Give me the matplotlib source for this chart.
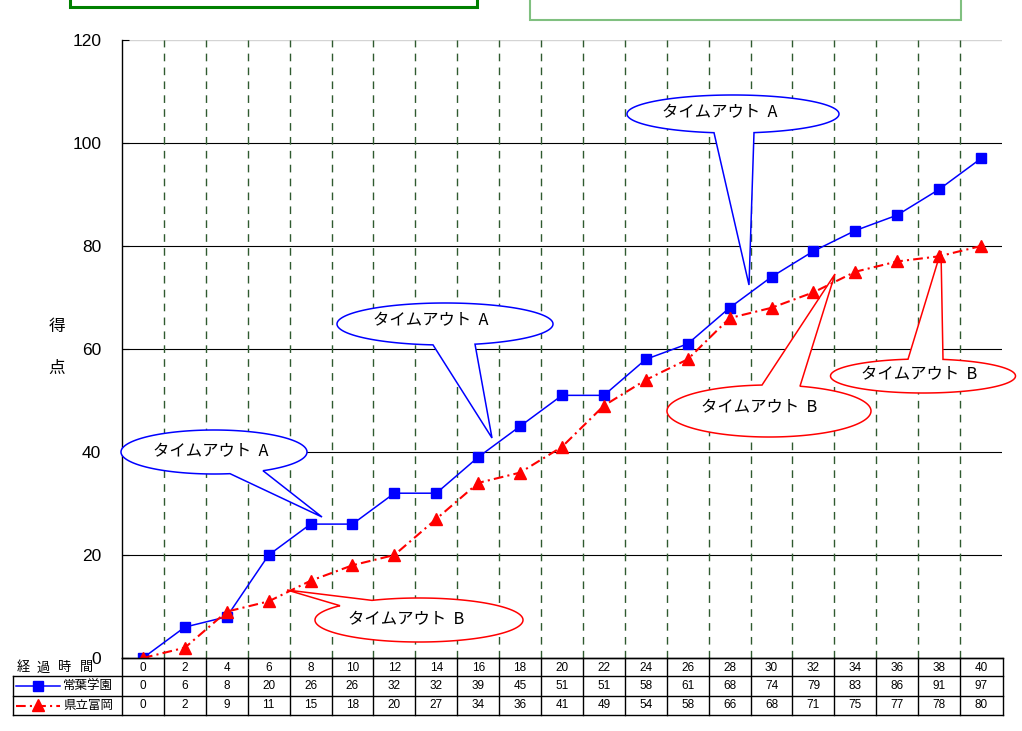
import numpy as np
import matplotlib
matplotlib.use("Agg")
import matplotlib.pyplot as plt
from matplotlib.patches import Polygon, Rectangle
from matplotlib.lines import Line2D
from matplotlib.transforms import Affine2D, blended_transform_factory

plt.rcParams['font.family'] = ['Liberation Sans', 'Noto Sans CJK JP']
plt.rcParams['lines.scale_dashes'] = False

# ---------------- data ----------------
minutes = [0, 2, 4, 6, 8, 10, 12, 14, 16, 18, 20, 22, 24, 26, 28, 30, 32, 34, 36, 38, 40]
tokiwa = [0, 6, 8, 20, 26, 26, 32, 32, 39, 45, 51, 51, 58, 61, 68, 74, 79, 83, 86, 91, 97]
tomioka = [0, 2, 9, 11, 15, 18, 20, 27, 34, 36, 41, 49, 54, 58, 66, 68, 71, 75, 77, 78, 80]
team_names = ["常葉学園", "県立富岡"]
row_header = ["経", "過", "時", "間"]
y_ticks = [0, 20, 40, 60, 80, 100, 120]
ylabel_chars = ["得", "点"]
callout_a = "タイムアウト  A"
callout_b = "タイムアウト  B"

W, H = 1022, 731
fig = plt.figure(figsize=(W / 100, H / 100), dpi=100)
pix = Affine2D().scale(1 / W, -1 / H).translate(0, 1) + fig.transFigure

ax_l, ax_r, ax_t, ax_b = 122, 1002, 40, 658
ax = fig.add_axes([ax_l / W, (H - ax_b) / H, (ax_r - ax_l) / W, (ax_b - ax_t) / H])
x = np.arange(len(minutes))
xpx = blended_transform_factory(ax.transData, pix)

# grid
for v in y_ticks[1:-1]:
    ax.axhline(v, color='black', lw=0.8, zorder=1)
ax.axhline(120, color='#d4d4d4', lw=1.0, zorder=1)
for i in range(len(minutes) - 1):
    ax.plot([i + 0.5, i + 0.5], [0, 120], color='#2f5a2f', lw=1.0,
            dashes=(5.5, 4.5), zorder=1)

# data lines
ax.plot(x, tokiwa, color='#0000ff', lw=1.1, marker='s', markersize=7.2,
        markerfacecolor='#0000ff', markeredgecolor='#0000ff', zorder=5)
ax.plot(x, tomioka, color='#ff0000', lw=1.5, dashes=(7, 3, 1.5, 3), marker='^',
        markersize=8.5, markerfacecolor='#ff0000', markeredgecolor='#ff0000', zorder=6)

ax.set_xlim(-0.5, len(minutes) - 0.5)
ax.set_ylim(0, 120)
ax.set_xticks([])
ax.set_yticks(y_ticks)
ax.set_yticklabels([str(v) for v in y_ticks], fontsize=12.5)
ax.tick_params(axis='y', direction='in', length=5, width=0.8, pad=15)
for s in ['top', 'right']:
    ax.spines[s].set_visible(False)
ax.spines['left'].set_color('black')
ax.spines['left'].set_linewidth(1.0)
ax.spines['bottom'].set_color('black')
ax.spines['bottom'].set_linewidth(1.0)

# y label
for ch, yy in zip(ylabel_chars, [327, 368]):
    ax.text(57, yy, ch, transform=pix, fontsize=12, ha='center', va='center',
            family=['Noto Sans CJK JP'], clip_on=False)


# callouts
def callout(cx, cy, w, h, bx1, bx2, side, tip, color, text, tx, ty):
    a, b = w / 2, h / 2
    t1 = np.arccos(np.clip((bx1 - cx) / a, -1, 1))
    t2 = np.arccos(np.clip((bx2 - cx) / a, -1, 1))
    if side == 'top':
        t1, t2 = -t1, -t2
    lo, hi = min(t1, t2), max(t1, t2)
    ts = np.linspace(hi, lo + 2 * np.pi, 300)
    pts = np.column_stack([cx + a * np.cos(ts), cy + b * np.sin(ts)])
    pts = np.vstack([pts, [tip]])
    poly = Polygon(pts, closed=True, transform=pix, facecolor='white',
                   edgecolor=color, lw=1.1, zorder=3, clip_on=False)
    ax.add_patch(poly)
    ax.text(tx, ty, text, transform=pix, fontsize=11.8, ha='center', va='center',
            family=['Noto Sans CJK JP'], zorder=4, clip_on=False)


callout(214, 452, 186, 44, 230, 263, 'bottom', (322, 517), '#0000ff', callout_a, 211, 452)
callout(445, 324, 216, 42, 433, 475, 'bottom', (492, 438), '#0000ff', callout_a, 431, 321)
callout(733, 114, 212, 38, 714, 754, 'bottom', (749, 285), '#0000ff', callout_a, 720, 113)
callout(419, 620, 208, 44, 340, 372, 'top', (287, 590), '#ff0000', callout_b, 406, 620)
callout(769, 411, 204, 52, 762, 800, 'top', (835, 274), '#ff0000', callout_b, 759, 408)
callout(923, 376, 185, 34, 908, 943, 'top', (941, 251), '#ff0000', callout_b, 919, 375)

# ---------------- data table ----------------
r0, r1, r2, r3 = 658, 676, 696, 715
tbl_left, tbl_right = 13, 1003
lk = dict(color='black', lw=1.0, clip_on=False, zorder=7)
ax.add_line(Line2D([ax_l, tbl_right], [r0, r0], transform=pix, **lk))
for yy in (r1, r2, r3):
    ax.add_line(Line2D([tbl_left, tbl_right], [yy, yy], transform=pix, **lk))
ax.add_line(Line2D([tbl_left, tbl_left], [r1, r3], transform=pix, **lk))
ax.add_line(Line2D([ax_l, ax_l], [r0, r3], transform=pix, **lk))
ax.add_line(Line2D([tbl_right, tbl_right], [r0, r3], transform=pix, **lk))
for i in range(1, len(minutes)):
    ax.add_line(Line2D([i - 0.5, i - 0.5], [r0, r3], transform=xpx, **lk))

for i in range(len(minutes)):
    for yy, val in zip([(r0 + r1) / 2 + 1, (r1 + r2) / 2, (r2 + r3) / 2],
                       [minutes[i], tokiwa[i], tomioka[i]]):
        ax.text(i, yy, str(val), transform=xpx, fontsize=8.5, ha='center',
                va='center', clip_on=False)

for ch, xx in zip(row_header, [23, 43, 65, 86]):
    ax.text(xx, 668, ch, transform=pix, fontsize=9.5, ha='center', va='center',
            family=['Noto Sans CJK JP'], clip_on=False)

# legend keys inside table
ax.add_line(Line2D([16, 60], [686, 686], transform=pix, color='#0000ff', lw=1.1,
                   clip_on=False, zorder=8))
ax.add_line(Line2D([38], [686], transform=pix, color='#0000ff', marker='s',
                   markersize=7.2, clip_on=False, zorder=8))
ax.add_line(Line2D([16, 60], [705.5, 705.5], transform=pix, color='#ff0000', lw=1.5,
                   dashes=(7, 3, 1.5, 3), clip_on=False, zorder=8))
ax.add_line(Line2D([38], [705], transform=pix, color='#ff0000', marker='^',
                   markersize=8.5, clip_on=False, zorder=8))
for name, yy in zip(team_names, [686, 705.5]):
    ax.text(113, yy, name, transform=pix, fontsize=9, ha='right', va='center',
            family=['Noto Sans CJK JP'], clip_on=False)

# top boxes (partially visible)
fig.add_artist(Rectangle((70, -20), 407, 27, transform=pix, fill=False,
                         edgecolor='#008000', lw=2.2))
fig.add_artist(Rectangle((530, -20), 431, 40, transform=pix, fill=False,
                         edgecolor='#80c080', lw=1.5))

fig.savefig("out.png", dpi=100)
